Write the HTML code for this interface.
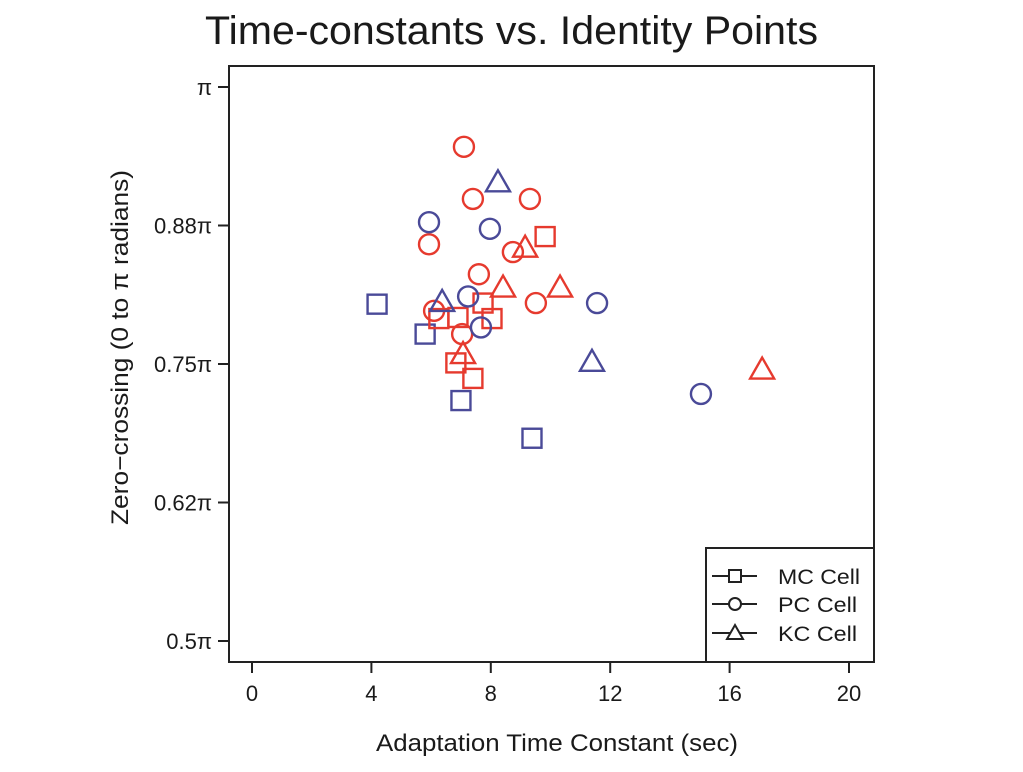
<!DOCTYPE html>
<html><head><meta charset="utf-8"><style>
html,body{margin:0;padding:0;background:#fff;}
svg text{font-family:"Liberation Sans",sans-serif;fill:#1a1a1a;}
</style></head><body>
<svg width="1023" height="767" viewBox="0 0 1023 767">
<text x="205" y="44" font-size="40" textLength="613" lengthAdjust="spacingAndGlyphs">Time-constants vs. Identity Points</text>
<rect x="229" y="66" width="645" height="596" fill="none" stroke="#222" stroke-width="2"/>
<g id="axes"></g>
<g id="marks"></g>
<text x="376" y="751" font-size="24" textLength="362" lengthAdjust="spacingAndGlyphs">Adaptation Time Constant (sec)</text>
<text transform="translate(128,525) rotate(-90)" font-size="24" textLength="355" lengthAdjust="spacingAndGlyphs">Zero−crossing (0 to π radians)</text>
<g>
<rect x="706" y="548" width="168" height="114" fill="#fff" stroke="#222" stroke-width="2"/>
<g>
<line x1="712" y1="576" x2="757" y2="576" stroke="#222" stroke-width="2"/><rect x="729" y="570" width="12" height="12" fill="#fff" stroke="#222" stroke-width="2"/>
<text x="778" y="584" font-size="21" textLength="82" lengthAdjust="spacingAndGlyphs">MC Cell</text></g>
<g>
<line x1="712" y1="604" x2="757" y2="604" stroke="#222" stroke-width="2"/><circle cx="735" cy="604" r="6" fill="#fff" stroke="#222" stroke-width="2"/>
<text x="778" y="612" font-size="21" textLength="79" lengthAdjust="spacingAndGlyphs">PC Cell</text></g>
<g>
<line x1="712" y1="633" x2="757" y2="633" stroke="#222" stroke-width="2"/><polygon points="735,625 743,639 727,639" fill="#fff" stroke="#222" stroke-width="2"/>
<text x="778" y="641" font-size="21" textLength="79" lengthAdjust="spacingAndGlyphs">KC Cell</text></g>
</g>
</svg>
<script>
const xTicks=[0,4,8,12,16,20];
const yTicks=[0.5,0.625,0.75,0.875,1];
const yTickLabels=["0.5π","0.62π","0.75π","0.88π","π"];
const blueSquaresX=[4.19,5.80,7.00,9.38];
const blueSquaresY=[0.804,0.777,0.717,0.683];
const redSquaresX=[9.82,7.74,8.04,6.90,6.26,6.83,7.40];
const redSquaresY=[0.865,0.805,0.791,0.792,0.791,0.751,0.737];
const redCirclesX=[7.10,7.40,9.31,5.93,8.74,7.60,9.51,6.10,7.04];
const redCirclesY=[0.946,0.899,0.899,0.858,0.851,0.831,0.805,0.798,0.777];
const blueCirclesX=[5.93,7.97,7.24,7.67,11.56,15.04];
const blueCirclesY=[0.878,0.872,0.811,0.783,0.805,0.723];
const redTrianglesX=[9.15,8.41,10.32,7.07,17.09];
const redTrianglesY=[0.855,0.819,0.819,0.759,0.745];
const blueTrianglesX=[8.24,6.37,11.39];
const blueTrianglesY=[0.914,0.806,0.752];

const NS="http://www.w3.org/2000/svg";
function xs(v){return 252+v*29.85;}
function ys(v){return 641-(v-0.5)*1108;}
const axes=document.getElementById('axes');
const marks=document.getElementById('marks');
function mk(tag,attrs,parent){const e=document.createElementNS(NS,tag);for(const k in attrs)e.setAttribute(k,attrs[k]);parent.appendChild(e);return e;}
let l=mk('line',{x1:xs(0),x2:xs(20),y1:662,y2:662,stroke:'#222','stroke-width':2},axes);


xTicks.forEach(t=>{
 const tk=mk('line',{x1:xs(t),x2:xs(t),y1:662,y2:673,stroke:'#222','stroke-width':2},axes);
 
 
 const tx=mk('text',{x:xs(t),y:701,'font-size':22,'text-anchor':'middle'},axes);
 tx.textContent=t;
 
 
});
l=mk('line',{x1:229,x2:229,y1:ys(0.5),y2:ys(1),stroke:'#222','stroke-width':2},axes);


yTicks.forEach((t,i)=>{
 const tk=mk('line',{x1:218,x2:229,y1:ys(t),y2:ys(t),stroke:'#222','stroke-width':2},axes);
 
 
 const tx=mk('text',{x:212,y:ys(t)+8,'font-size':22,'text-anchor':'end'},axes);
 tx.textContent=yTickLabels[i];
 
 
});
const RED='#e63a2e',BLUE='#4a4a98';
function draw(X,Y,shape,color,name){
 X.forEach((xv,i)=>{
  const cx=xs(xv),cy=ys(Y[i]);let e;
  if(shape==='sq')e=mk('rect',{x:cx-9.5,y:cy-9.5,width:19,height:19},marks);
  else if(shape==='ci')e=mk('circle',{cx:cx,cy:cy,r:10},marks);
  else e=mk('polygon',{points:`${cx},${cy-12} ${cx+12},${cy+9} ${cx-12},${cy+9}`},marks);
  e.setAttribute('fill','none');e.setAttribute('stroke',color);e.setAttribute('stroke-width',2.4);
  
  
 });
}
draw(blueSquaresX,blueSquaresY,'sq',BLUE,'mc-point-blue');
draw(redSquaresX,redSquaresY,'sq',RED,'mc-point-red');
draw(redCirclesX,redCirclesY,'ci',RED,'pc-point-red');
draw(blueCirclesX,blueCirclesY,'ci',BLUE,'pc-point-blue');
draw(redTrianglesX,redTrianglesY,'tr',RED,'kc-point-red');
draw(blueTrianglesX,blueTrianglesY,'tr',BLUE,'kc-point-blue');
</script>
</body></html>
